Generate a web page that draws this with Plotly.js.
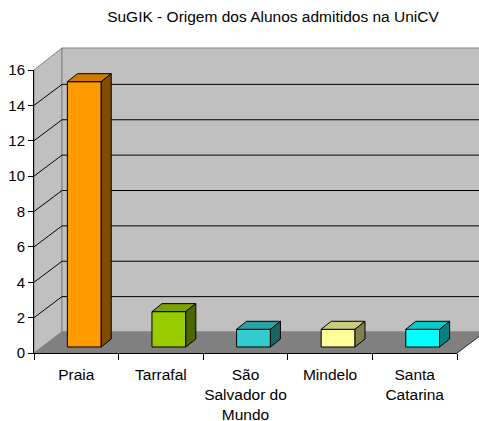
<!DOCTYPE html>
<html><head><meta charset="utf-8">
<script src="https://cdn.plot.ly/plotly-3.0.1.min.js"></script>
<style>html,body{margin:0;padding:0;background:#fff}#chart{width:479px;height:421px}</style>
</head><body><div id="chart"></div>
<script>
// ---- data ----
const categories = ['Praia', 'Tarrafal', 'São Salvador do Mundo', 'Mindelo', 'Santa Catarina'];
const tickLabels = ['Praia', 'Tarrafal', 'São<br>Salvador do<br>Mundo', 'Mindelo', 'Santa<br>Catarina'];
const values = [15, 2, 1, 1, 1];
const yTicks = [0, 2, 4, 6, 8, 10, 12, 14, 16];
const titleText = 'SuGIK - Origem dos Alunos admitidos na UniCV';

// ---- styles ----
const frontColors = ['#FF9900', '#99CC00', '#33CCCC', '#FFFF99', '#00FFFF'];
const topColors   = ['#CC7A00', '#7AA300', '#29A3A3', '#CCCC7A', '#00CCCC'];
const sideColors  = ['#804C00', '#4D6600', '#1A6666', '#80804D', '#008080'];
const FONT = 'Liberation Sans, Arial, sans-serif';

// ---- geometry (pixels) ----
const W = 479, H = 421;
const M = {l: 34, r: 22, t: 70, b: 68};
const plotW = W - M.l - M.r, plotH = H - M.t - M.b;
const catPx = plotW / categories.length;
const unitPx = plotH / 16;
const WALL_DX = 28, WALL_DY = 21;
const BAR_W = 0.4;
const SHIFT_X = 8 / catPx;     // bars sit in the middle of the floor depth
const BASE = 6 / unitPx;
const DX = 10 / catPx, DY = 8 / unitPx; // bar depth

const px = x => (x - M.l) / plotW;
const py = y => (H - M.b - y) / plotH;

const shapes = [];
// left side wall
shapes.push({type: 'path', xref: 'paper', yref: 'paper', layer: 'below',
  path: `M${px(M.l)},${py(M.t)} L${px(M.l + WALL_DX)},${py(M.t - WALL_DY - 1)} L${px(M.l + WALL_DX)},${py(H - M.b - WALL_DY)} L${px(M.l)},${py(H - M.b)} Z`,
  fillcolor: '#C0C0C0', line: {color: '#808080', width: 1}});
// back wall
shapes.push({type: 'rect', xref: 'paper', yref: 'paper', layer: 'below',
  x0: px(M.l + WALL_DX), x1: px(W + 20), y0: py(H - M.b - WALL_DY), y1: py(M.t - WALL_DY - 1),
  fillcolor: '#C0C0C0', line: {color: '#808080', width: 1}});
// floor
shapes.push({type: 'path', xref: 'paper', yref: 'paper', layer: 'below',
  path: `M${px(M.l)},${py(H - M.b)} L${px(M.l + WALL_DX)},${py(H - M.b - WALL_DY)} L${px(W - M.r + WALL_DX)},${py(H - M.b - WALL_DY)} L${px(W - M.r)},${py(H - M.b)} Z`,
  fillcolor: '#808080', line: {color: '#808080', width: 1}});
shapes.push({type: 'line', xref: 'paper', yref: 'paper', layer: 'below',
  x0: px(W - M.r), y0: py(H - M.b), x1: px(W - M.r + WALL_DX), y1: py(H - M.b - WALL_DY),
  line: {color: '#303030', width: 1}});
// gridlines on back wall + connectors on side wall
yTicks.filter(v => v > 0 && v < 16).forEach(v => {
  shapes.push({type: 'line', layer: 'below', xref: 'paper', yref: 'y', ysizemode: 'pixel', yanchor: v,
    x0: px(M.l + WALL_DX), x1: px(W + 20), y0: WALL_DY, y1: WALL_DY, line: {color: '#000', width: 1}});
  shapes.push({type: 'line', layer: 'below', xref: 'paper', yref: 'y', ysizemode: 'pixel', yanchor: v,
    x0: px(M.l), x1: px(M.l + WALL_DX), y0: 0, y1: WALL_DY, line: {color: '#000', width: 1}});
});

const traces = [];
traces.push({type: 'bar', x: categories, y: values, base: BASE, width: BAR_W, offset: -BAR_W / 2 + SHIFT_X,
  marker: {color: frontColors, line: {color: '#000', width: 1}}, xaxis: 'x', yaxis: 'y', hoverinfo: 'skip'});
values.forEach((v, i) => {
  const L = i - BAR_W / 2 + SHIFT_X, R = L + BAR_W, T = v + BASE, B = BASE;
  traces.push({type: 'scatter', mode: 'lines', xaxis: 'x2', yaxis: 'y', fill: 'toself', hoverinfo: 'skip',
    x: [L, L + DX, R + DX, R, L], y: [T, T + DY, T + DY, T, T],
    fillcolor: topColors[i], line: {color: '#000', width: 1}});
  traces.push({type: 'scatter', mode: 'lines', xaxis: 'x2', yaxis: 'y', fill: 'toself', hoverinfo: 'skip',
    x: [R, R + DX, R + DX, R, R], y: [B, B + DY, T + DY, T, B],
    fillcolor: sideColors[i], line: {color: '#000', width: 1}});
});

const layout = {
  width: W, height: H, margin: M, showlegend: false,
  paper_bgcolor: '#fff', plot_bgcolor: 'rgba(0,0,0,0)',
  font: {family: FONT, size: 15, color: '#000'},
  title: {text: titleText, xref: 'container', yref: 'container', x: 273 / W, xanchor: 'center',
    y: 1 - 17 / H, yanchor: 'middle', font: {family: FONT, size: 15.5, color: '#000'}},
  xaxis: {type: 'category', categoryorder: 'array', categoryarray: categories, range: [-0.5, 4.5],
    tickvals: categories, ticktext: tickLabels, tickson: 'boundaries', ticks: 'outside', ticklen: 6,
    tickangle: 0, automargin: false, ticklabelstandoff: 7,
    tickcolor: '#000', showline: true, linecolor: '#000', linewidth: 1, showgrid: false, zeroline: false,
    tickfont: {family: FONT, size: 15.5, color: '#000'}, fixedrange: true},
  xaxis2: {type: 'linear', overlaying: 'x', anchor: 'y', range: [-0.5, 4.5], visible: false, fixedrange: true},
  yaxis: {range: [0, 16], tickvals: yTicks, ticks: 'outside', ticklen: 5, tickcolor: '#000', automargin: false,
    showline: true, linecolor: '#000', linewidth: 1, showgrid: false, zeroline: false,
    tickfont: {family: FONT, size: 15, color: '#000'}, fixedrange: true},
  shapes: shapes
};
Plotly.newPlot('chart', traces, layout, {staticPlot: true, displayModeBar: false});
</script>
</body></html>
